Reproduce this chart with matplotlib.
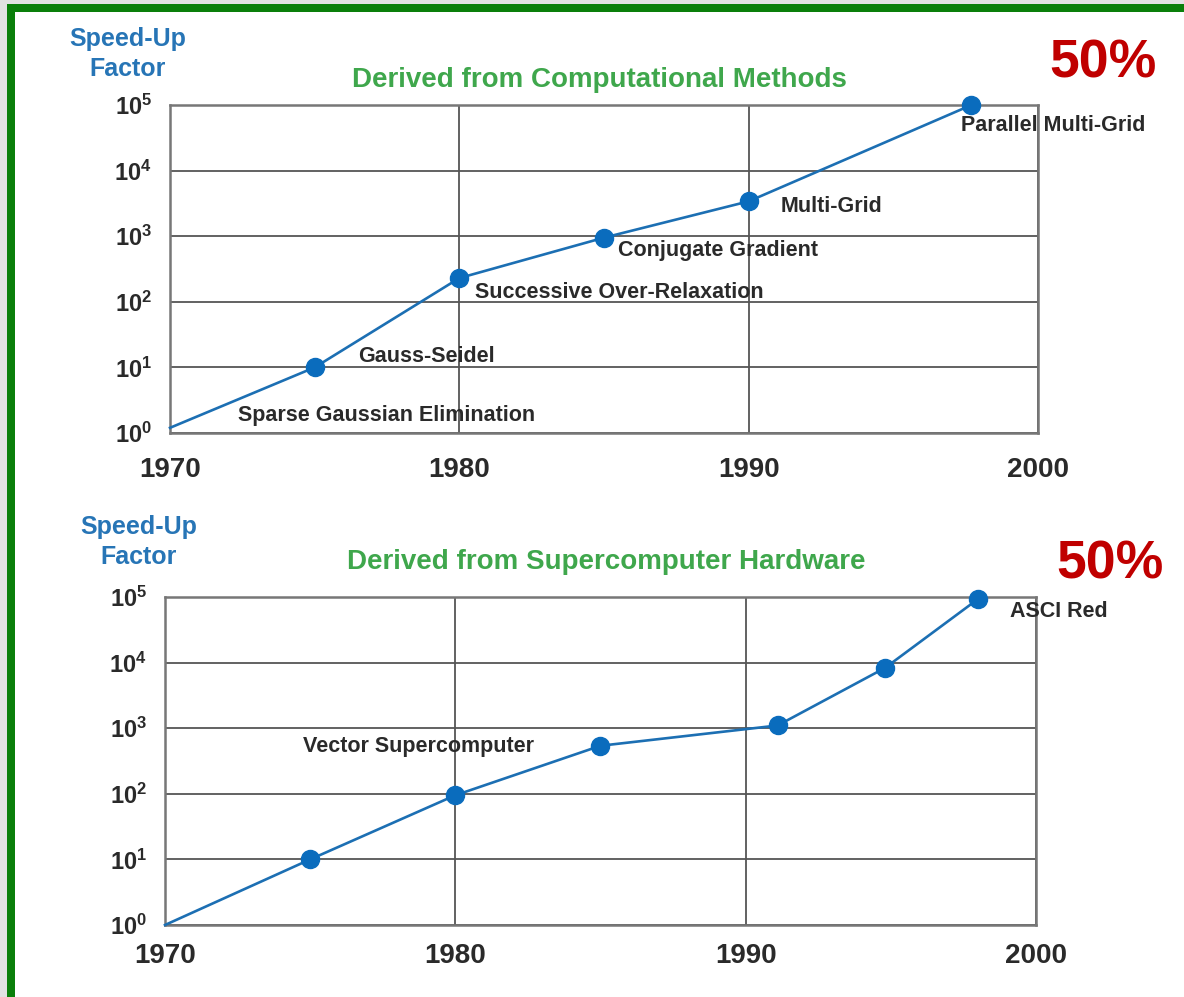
import matplotlib
matplotlib.use("Agg")
import matplotlib.pyplot as plt
from matplotlib.patches import Rectangle

plt.rcParams['font.family'] = ['Liberation Sans', 'DejaVu Sans']
plt.rcParams['mathtext.fontset'] = 'custom'
plt.rcParams['mathtext.rm'] = 'Liberation Sans'
plt.rcParams['mathtext.bf'] = 'Liberation Sans:bold'

# ---- data ----
year_ticks = [1970, 1980, 1990, 2000]
decades = [1, 10, 100, 1000, 10000, 100000]
decade_labels = [r'$\mathbf{10^{0}}$', r'$\mathbf{10^{1}}$', r'$\mathbf{10^{2}}$',
                 r'$\mathbf{10^{3}}$', r'$\mathbf{10^{4}}$', r'$\mathbf{10^{5}}$']

# Algorithms
alg_years = [1970, 1975, 1980, 1985, 1990, 1997.7]
alg_speedup = [1.2, 10, 230, 950, 3400, 100000]
alg_marked = [False, True, True, True, True, True]
alg_labels = ["Sparse Gaussian Elimination", "Gauss-Seidel", "Successive Over-Relaxation",
              "Conjugate Gradient", "Multi-Grid", "Parallel Multi-Grid"]
alg_label_x = [1972.35, 1976.5, 1980.55, 1985.5, 1991.1, 1997.35]
alg_label_y = [1.88, 14.5, 137, 600, 2800, 49000]

# Hardware
hw_years = [1970, 1975, 1980, 1985, 1991.1, 1994.8, 1998]
hw_speedup = [1, 10, 95, 540, 1100, 8300, 93000]
hw_marked = [False, True, True, True, True, True, True]
hw_labels = ["Vector Supercomputer", "ASCI Red"]
hw_label_x = [1974.75, 1999.1]
hw_label_y = [520, 60000]

W, H = 1184, 997
fig = plt.figure(figsize=(W / 100, H / 100), dpi=100)
fig.patch.set_facecolor('white')


def fx(px):
    return px / W


def fy(py):
    return 1 - py / H


# page frame: gray margin with green rule on top and left
fig.patches.append(Rectangle((0, fy(4)), 1, 4 / H, transform=fig.transFigure,
                             facecolor='#e2e2e2', edgecolor='none', zorder=0))
fig.patches.append(Rectangle((0, 0), 7 / W, 1, transform=fig.transFigure,
                             facecolor='#e2e2e2', edgecolor='none', zorder=0))
fig.patches.append(Rectangle((fx(7), fy(12)), 1, 8 / H, transform=fig.transFigure,
                             facecolor='#0a7f0a', edgecolor='none', zorder=1))
fig.patches.append(Rectangle((fx(7), 0), 8 / W, fy(4), transform=fig.transFigure,
                             facecolor='#0a7f0a', edgecolor='none', zorder=1))

LINE = '#1c6fb3'
MARK = '#0a6cbd'
TXT = '#2a2a2a'
GRID = '#555555'
TITLE_G = '#3fa74c'
AXLBL_B = '#2775b6'
RED = '#c00000'


def make_panel(rect, years, vals, marked, labels, lx, ly, xpad):
    ax = fig.add_axes(rect)
    ax.set_yscale('log')
    ax.set_xlim(1970, 2000)
    ax.set_ylim(1, 100000)
    ax.set_xticks(year_ticks)
    ax.set_xticklabels([str(y) for y in year_ticks], fontsize=20, fontweight='bold', color=TXT)
    ax.set_yticks(decades)
    ax.set_yticklabels(decade_labels, fontsize=17, color=TXT)
    ax.yaxis.set_minor_locator(matplotlib.ticker.NullLocator())
    ax.tick_params(axis='both', length=0)
    ax.tick_params(axis='y', pad=13)
    ax.tick_params(axis='x', pad=xpad)
    ax.grid(True, color=GRID, linewidth=1.3)
    for s in ax.spines.values():
        s.set_color('#777777')
        s.set_linewidth(1.8)
    ax.plot(years, vals, color=LINE, linewidth=1.9, zorder=3, clip_on=False)
    mx = [x for x, m in zip(years, marked) if m]
    my = [v for v, m in zip(vals, marked) if m]
    ax.plot(mx, my, 'o', color=MARK, markersize=13, zorder=4, clip_on=False)
    for t, x, y in zip(labels, lx, ly):
        ax.text(x, y, t, fontsize=15.5, fontweight='bold', color=TXT,
                ha='left', va='center', zorder=5, clip_on=False)
    return ax


ax1 = make_panel([fx(170), fy(433), (1038 - 170) / W, (433 - 105) / H],
                 alg_years, alg_speedup, alg_marked, alg_labels, alg_label_x, alg_label_y, 17)
ax2 = make_panel([fx(165), fy(925), (1036 - 165) / W, (925 - 597) / H],
                 hw_years, hw_speedup, hw_marked, hw_labels, hw_label_x, hw_label_y, 13)

fig.text(fx(599), fy(80), "Derived from Computational Methods", fontsize=20,
         fontweight='bold', color=TITLE_G, ha='center', va='center')
fig.text(fx(606), fy(562), "Derived from Supercomputer Hardware", fontsize=20,
         fontweight='bold', color=TITLE_G, ha='center', va='center')

fig.text(fx(128), fy(54), "Speed-Up\nFactor", fontsize=18, fontweight='bold',
         color=AXLBL_B, ha='center', va='center', linespacing=1.3)
fig.text(fx(139), fy(542), "Speed-Up\nFactor", fontsize=18, fontweight='bold',
         color=AXLBL_B, ha='center', va='center', linespacing=1.3)

fig.text(fx(1103), fy(64), "50%", fontsize=38.5, fontweight='bold', color=RED,
         ha='center', va='center')
fig.text(fx(1110), fy(564), "50%", fontsize=38.5, fontweight='bold', color=RED,
         ha='center', va='center')

fig.savefig('out.png', dpi=100, facecolor=fig.get_facecolor())
